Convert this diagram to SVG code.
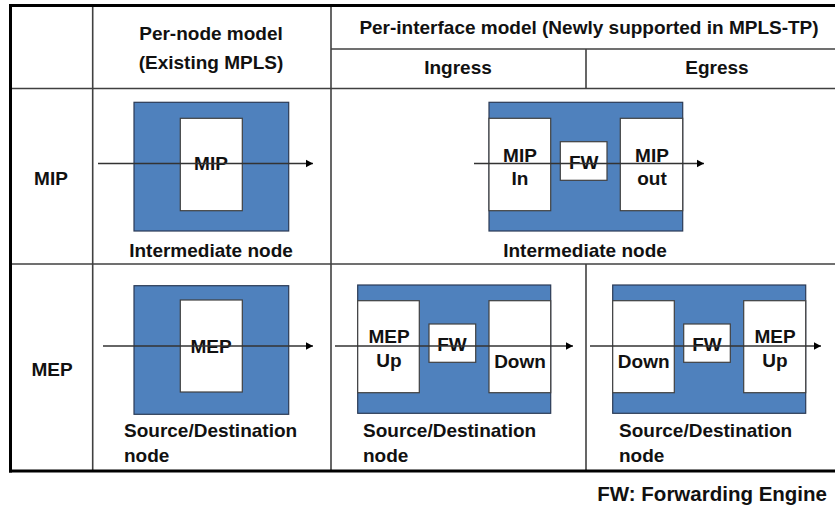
<svg xmlns="http://www.w3.org/2000/svg" width="835" height="507" viewBox="0 0 835 507">
<style>
text{font-family:"Liberation Sans",Arial,sans-serif;font-weight:bold;font-size:19px;fill:#111}
.c{text-anchor:middle}
.grid{stroke:#404040;stroke-width:1.6;fill:none}
.outer{stroke:#000;stroke-width:3;fill:none}
.blue{fill:#4F81BD;stroke:#2b3a55;stroke-width:1.2}
.white{fill:#fff;stroke:#404040;stroke-width:1.2}
.arrow{stroke:#333;stroke-width:1.3;fill:none;marker-end:url(#ah)}
</style>
<defs>
<marker id="ah" markerUnits="userSpaceOnUse" markerWidth="8" markerHeight="9" refX="7.5" refY="4.5" orient="auto">
<path d="M0,0.5 L7.5,4.5 L0,8.5 z" fill="#000"/>
</marker>
</defs>
<rect width="835" height="507" fill="#fff"/>
<g id="table">
<line class="grid" x1="92.7" y1="5" x2="92.7" y2="471"/>
<line class="grid" x1="331" y1="5" x2="331" y2="471"/>
<line class="grid" x1="586" y1="49" x2="586" y2="88.5"/>
<line class="grid" x1="586" y1="264" x2="586" y2="471"/>
<line class="grid" x1="331" y1="49" x2="835" y2="49"/>
<line class="grid" x1="10" y1="88.5" x2="835" y2="88.5"/>
<line class="grid" x1="10" y1="264" x2="835" y2="264"/>
<line class="outer" x1="9" y1="5.5" x2="835" y2="5.5"/>
<line class="outer" x1="10.5" y1="4" x2="10.5" y2="472.5"/>
<line class="outer" x1="9" y1="471" x2="835" y2="471"/>
<text class="c" x="211" y="40">Per-node model</text>
<text class="c" x="211" y="69">(Existing MPLS)</text>
<text class="c" x="589" y="34">Per-interface model (Newly supported in MPLS-TP)</text>
<text class="c" x="458" y="74">Ingress</text>
<text class="c" x="717" y="74">Egress</text>
<text class="c" x="51" y="185">MIP</text>
<text class="c" x="52" y="376">MEP</text>
</g>
<g id="mip-per-node">
<rect class="blue" x="134" y="102.3" width="154.7" height="128.7"/>
<rect class="white" x="180.3" y="118.3" width="62" height="92.4"/>
<text class="c" x="211" y="170">MIP</text>
<text class="c" x="211" y="257">Intermediate node</text>
</g>
<g id="mip-per-interface">
<rect class="blue" x="489" y="102.3" width="193.7" height="128.7"/>
<rect class="white" x="489" y="118.3" width="61.7" height="92.4"/>
<rect class="white" x="560.3" y="141.7" width="46.7" height="38.6"/>
<rect class="white" x="620.3" y="118.3" width="62.4" height="92.4"/>
<text class="c" x="520" y="162">MIP</text>
<text class="c" x="520" y="185">In</text>
<text class="c" x="583.7" y="169">FW</text>
<text class="c" x="652" y="162">MIP</text>
<text class="c" x="652" y="185">out</text>
<text class="c" x="585" y="257">Intermediate node</text>
</g>
<g id="mep-per-node">
<rect class="blue" x="134" y="285.7" width="154.7" height="128.6"/>
<rect class="white" x="180.3" y="300" width="62" height="92"/>
<text class="c" x="211" y="353">MEP</text>
<text x="124" y="437">Source/Destination</text>
<text x="124" y="462">node</text>
</g>
<g id="mep-ingress">
<rect class="blue" x="357.7" y="285" width="193" height="128.3"/>
<rect class="white" x="357.7" y="300.7" width="61.6" height="92"/>
<rect class="white" x="429" y="324" width="46.7" height="38.3"/>
<rect class="white" x="489" y="300.7" width="61.7" height="92"/>
<text class="c" x="389" y="343">MEP</text>
<text class="c" x="389" y="367">Up</text>
<text class="c" x="452" y="351">FW</text>
<text class="c" x="520" y="368">Down</text>
<text x="363" y="437">Source/Destination</text>
<text x="363" y="462">node</text>
</g>
<g id="mep-egress">
<rect class="blue" x="612.7" y="285" width="193" height="128.3"/>
<rect class="white" x="612.7" y="300.7" width="61.6" height="92"/>
<rect class="white" x="683.7" y="324" width="46.6" height="38.3"/>
<rect class="white" x="743.7" y="300.7" width="62" height="92"/>
<text class="c" x="643.7" y="368">Down</text>
<text class="c" x="707" y="351">FW</text>
<text class="c" x="775" y="343">MEP</text>
<text class="c" x="775" y="367">Up</text>
<text x="619" y="437">Source/Destination</text>
<text x="619" y="462">node</text>
</g>
<g id="connectors">
<line class="arrow" x1="98" y1="163.5" x2="313" y2="163.5"/>
<line class="arrow" x1="474" y1="163.5" x2="704" y2="163.5"/>
<line class="arrow" x1="103" y1="346" x2="313" y2="346"/>
<line class="arrow" x1="335" y1="346" x2="573" y2="346"/>
<line class="arrow" x1="590" y1="346" x2="821" y2="346"/>
</g>
<g id="legend">
<text x="827" y="501" style="text-anchor:end;font-size:20.5px">FW: Forwarding Engine</text>
</g>
</svg>
